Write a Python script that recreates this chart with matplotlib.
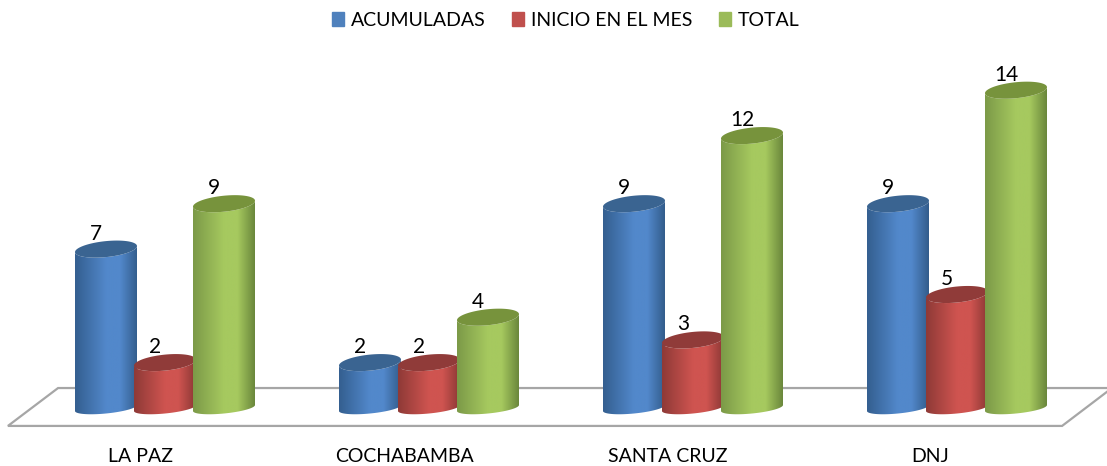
import numpy as np
import matplotlib.pyplot as plt
from matplotlib.colors import LinearSegmentedColormap
from matplotlib.patches import Patch, Polygon

plt.rcParams['font.family'] = ['Lato', 'DejaVu Sans']

categories = ['LA PAZ', 'COCHABAMBA', 'SANTA CRUZ', 'DNJ']
series_names = ['ACUMULADAS', 'INICIO EN EL MES', 'TOTAL']
acumuladas = [7, 2, 9, 9]
inicio = [2, 2, 3, 5]
total = [9, 4, 12, 14]
all_values = [acumuladas, inicio, total]

# legend colour, then left / centre / right of the cylinder, then top cap
legend_cols = ['#4f81bd', '#c0504d', '#9bbb59']
body_cols = [['#345f90', '#5288cb', '#335d8c'],
             ['#8f3a37', '#cf5450', '#8c3835'],
             ['#7c9a48', '#a6c95f', '#6b883c']]
cap_cols = ['#3a6491', '#903b39', '#77933c']

PX_X = 264.0   # pixels per category
PX_Y = 22.7    # pixels per unit of value
offset = 59 / PX_X
half_w = 31 / PX_X
top_h = 8 / PX_Y
bottom_h = 5.5 / PX_Y
ell_tilt = 3 / PX_Y

fig = plt.figure(figsize=(11.07, 4.66), dpi=100)
ax = fig.add_axes([0, 26 / 466, 1, 440 / 466])


def ellipse(cx, cy, t, h):
    return cx + half_w * np.cos(t), cy + h * np.sin(t) + ell_tilt * np.cos(t)


def cylinder(cx, value, j):
    t = np.linspace(np.pi, 2 * np.pi, 60)
    bx, by = ellipse(cx, 0, t, bottom_h)
    tx, ty = ellipse(cx, value, t[::-1], top_h)
    body = Polygon(np.column_stack([np.r_[bx, tx], np.r_[by, ty]]), closed=True,
                   facecolor='none', edgecolor='none', transform=ax.transData)
    ax.add_patch(body)
    cmap = LinearSegmentedColormap.from_list('c', [(0, body_cols[j][0]), (0.5, body_cols[j][1]),
                                                   (0.72, body_cols[j][1]), (1, body_cols[j][2])])
    im = ax.imshow(np.linspace(0, 1, 100).reshape(1, -1), cmap=cmap, aspect='auto',
                   extent=[cx - half_w, cx + half_w, -1, value + 1], zorder=2 + j)
    im.set_clip_path(body)
    t = np.linspace(0, 2 * np.pi, 100)
    ex, ey = ellipse(cx, value, t, top_h)
    ax.fill(ex, ey, color=cap_cols[j], lw=0, zorder=2 + j)


# floor
ax.add_patch(Polygon([(-0.595, -0.79), (3.398, -0.79), (3.587, 0.88), (-0.405, 0.88)], closed=True,
                     facecolor='white', edgecolor='#a6a6a6', lw=1.6, zorder=1))

for j, values in enumerate(all_values):
    for i, v in enumerate(values):
        cx = i + (j - 1) * offset
        cylinder(cx, v, j)
        ax.text(cx - 10 / PX_X, v + 0.68, str(v), ha='center', va='center',
                fontsize=15, color='black', zorder=6)

ax.set_xlim(-165 / PX_X, (1107 - 165) / PX_X)
ax.set_ylim(-32 / PX_Y, 408 / PX_Y)
ax.set_yticks([])
ax.set_xticks([i - 24 / PX_X - i * 0.8 / PX_X for i in range(len(categories))])
ax.set_xticklabels(categories, fontsize=14)
ax.tick_params(axis='x', length=0, pad=6)
for s in ax.spines.values():
    s.set_visible(False)
ax.patch.set_alpha(0)

handles = [Patch(color=c, label=n) for c, n in zip(legend_cols, series_names)]
ax.legend(handles=handles, ncol=3, loc='upper center', bbox_to_anchor=(0.511, 1.0), frameon=False,
          fontsize=14, handlelength=0.62, handleheight=0.68, handletextpad=0.36,
          columnspacing=1.35, borderpad=0.2, borderaxespad=0.4)

plt.savefig('out.png', dpi=100)
